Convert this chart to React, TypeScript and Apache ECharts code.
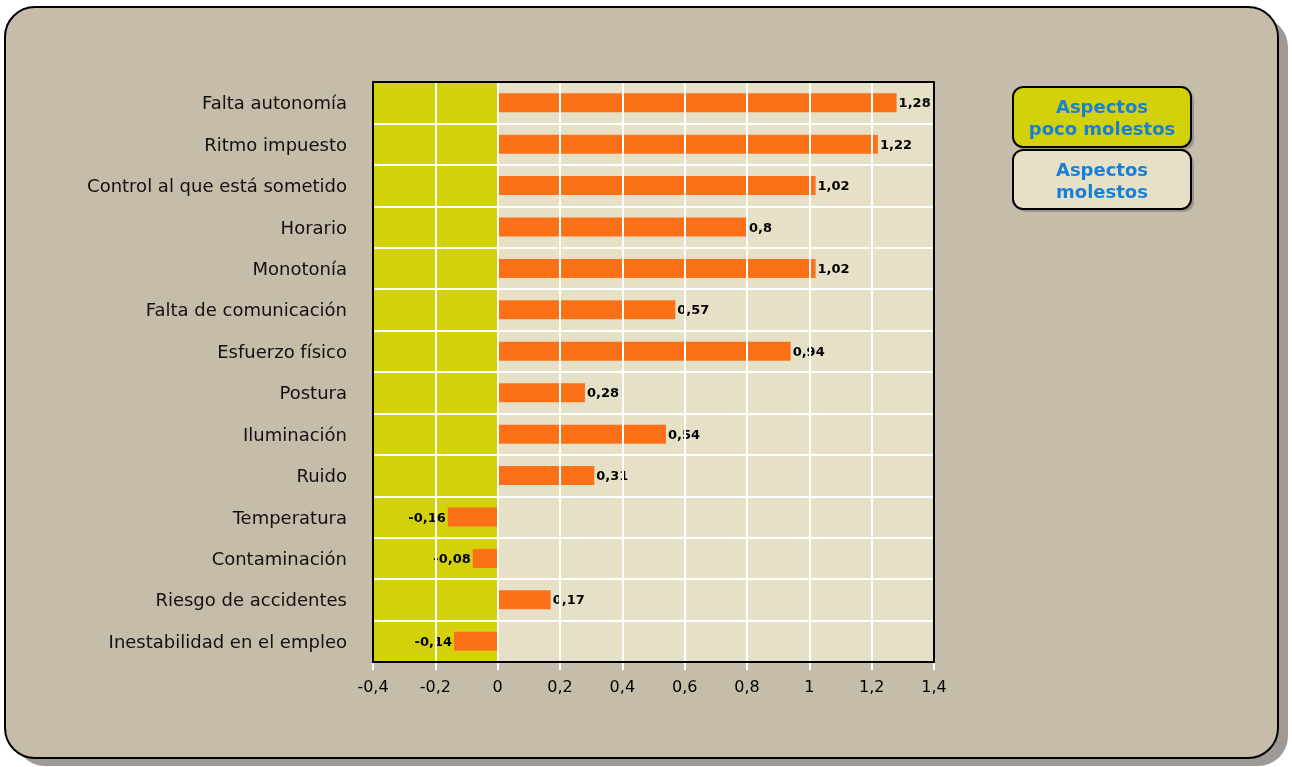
import React, { useEffect, useRef } from "react";
import * as echarts from "echarts";

const categories = [
  "Falta autonomía",
  "Ritmo impuesto",
  "Control al que está sometido",
  "Horario",
  "Monotonía",
  "Falta de comunicación",
  "Esfuerzo físico",
  "Postura",
  "Iluminación",
  "Ruido",
  "Temperatura",
  "Contaminación",
  "Riesgo de accidentes",
  "Inestabilidad en el empleo",
];
const values = [1.28, 1.22, 1.02, 0.8, 1.02, 0.57, 0.94, 0.28, 0.54, 0.31, -0.16, -0.08, 0.17, -0.14];
const xMin = -0.4;
const xMax = 1.4;
const xStep = 0.2;
const legendLabels = ["Aspectos\npoco molestos", "Aspectos\nmolestos"];

const OLIVE = "#d3d10a";
const LIGHT = "#e6e0c6";
const ORANGE = "#fc7018";
const BG = "#c5bda9";

const fmt = (v: number) => String(Math.round(v * 100) / 100).replace(".", ",");

export default function App() {
  const ref = useRef<HTMLDivElement>(null);
  useEffect(() => {
    if (!ref.current) return;
    const chart = echarts.init(ref.current, null, { renderer: "svg" });
    const font = "DejaVu Sans";
    chart.setOption({
      animation: false,
      backgroundColor: "transparent",
      textStyle: { fontFamily: font },
      graphic: [
        { type: "rect", z: -20, shape: { x: 15, y: 17, width: 1273, height: 749, r: 30 }, style: { fill: "#a09a96" } },
        { type: "rect", z: -19, shape: { x: 5, y: 7, width: 1273, height: 751, r: 30 }, style: { fill: BG, stroke: "#000", lineWidth: 2 } },
        { type: "rect", z: 8, silent: true, shape: { x: 373, y: 82, width: 561, height: 580 }, style: { fill: "none", stroke: "#000", lineWidth: 2 } },
        { type: "rect", z: 10, shape: { x: 1016, y: 90, width: 178, height: 60, r: 10 }, style: { fill: "#9a948a" } },
        { type: "rect", z: 11, shape: { x: 1013, y: 87, width: 178, height: 60, r: 10 }, style: { fill: OLIVE, stroke: "#000", lineWidth: 2 } },
        { type: "text", z: 12, x: 1102, y: 117, style: { text: legendLabels[0], fill: "#1a80d6", font: `bold 18px ${font}`, align: "center", verticalAlign: "middle", lineHeight: 22 } },
        { type: "rect", z: 10, shape: { x: 1016, y: 153, width: 178, height: 59, r: 10 }, style: { fill: "#9a948a" } },
        { type: "rect", z: 11, shape: { x: 1013, y: 150, width: 178, height: 59, r: 10 }, style: { fill: LIGHT, stroke: "#000", lineWidth: 2 } },
        { type: "text", z: 12, x: 1102, y: 180, style: { text: legendLabels[1], fill: "#1a80d6", font: `bold 18px ${font}`, align: "center", verticalAlign: "middle", lineHeight: 22 } },
      ],
      grid: {
        left: 373,
        right: 358,
        top: 82,
        bottom: 105,
        show: true,
        backgroundColor: LIGHT,
        borderWidth: 0,
      },
      xAxis: {
        type: "value",
        min: xMin,
        max: xMax,
        interval: xStep,
        z: 5,
        axisLine: { show: false },
        axisTick: { show: true, length: 8, lineStyle: { color: "#fff", width: 2 } },
        axisLabel: { color: "#000", fontSize: 16, margin: 16, formatter: (v: number) => fmt(v) },
        splitLine: { show: true, lineStyle: { color: "#fff", width: 2 } },
      },
      yAxis: {
        type: "category",
        data: categories,
        inverse: true,
        z: 5,
        axisLine: { show: false },
        axisTick: { show: true, length: 12, lineStyle: { color: "#fff", width: 2 } },
        axisLabel: { color: "#111", fontSize: 18, margin: 26 },
        splitLine: { show: true, lineStyle: { color: "#fff", width: 2 } },
      },
      series: [
        {
          type: "bar",
          barWidth: 19,
          z: 2,
          itemStyle: { color: ORANGE },
          data: values.map((v) => ({
            value: v,
            label: { position: v < 0 ? "left" : "right" },
          })),
          label: {
            show: true,
            color: "#000",
            fontSize: 13,
            fontWeight: "bold",
            distance: 2,
            formatter: (p: any) => fmt(p.value),
          },
          markArea: {
            silent: true,
            itemStyle: { color: OLIVE, opacity: 1 },
            data: [[{ xAxis: xMin }, { xAxis: 0 }]],
          },
        },
      ],
    });
    return () => chart.dispose();
  }, []);
  return (
    <div
      ref={ref}
      style={{ position: "fixed", left: 0, top: 0, width: 1292, height: 767 }}
    />
  );
}
